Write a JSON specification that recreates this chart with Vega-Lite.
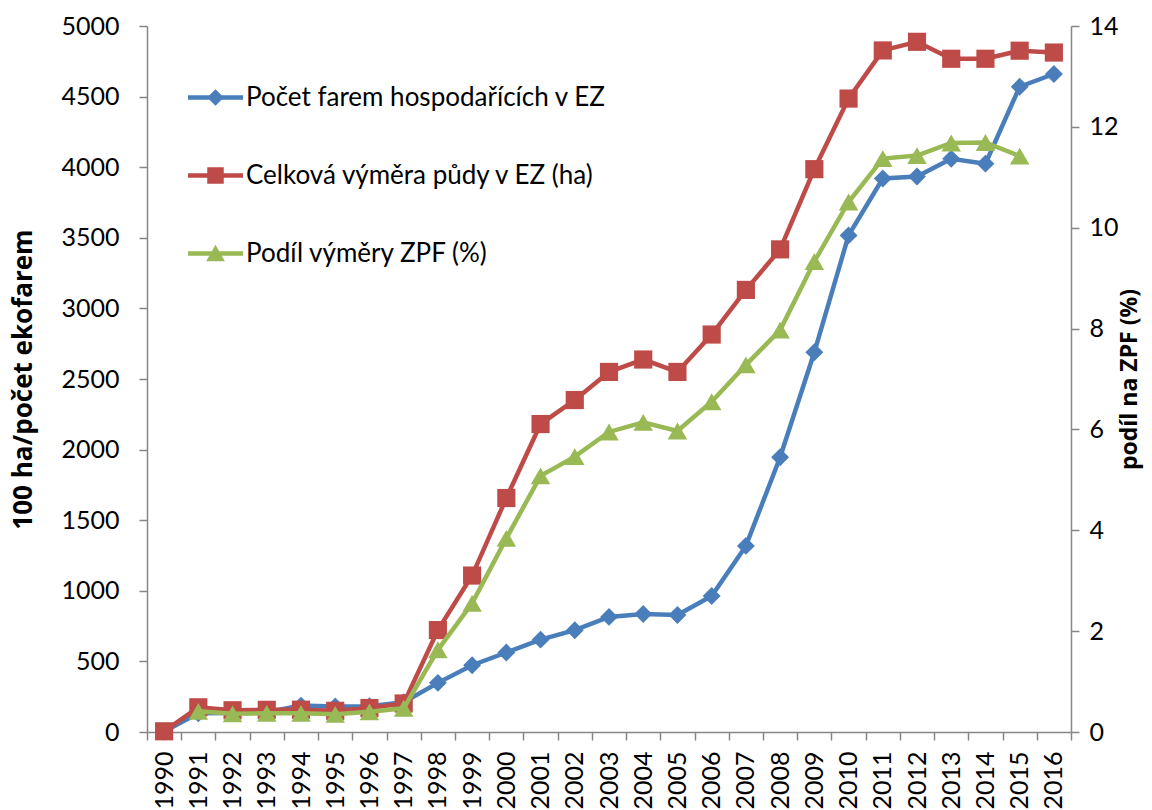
{
  "$schema": "https://vega.github.io/schema/vega-lite/v6.json",
  "width": 924,
  "height": 706,
  "padding": {"left": 10, "top": 14, "right": 6, "bottom": 0},
  "background": "white",
  "config": {
    "view": {"stroke": null},
    "font": "Lato",
    "axis": {
      "labelFont": "Lato",
      "labelFontSize": 25,
      "labelColor": "black",
      "titleFont": "Open Sans",
      "titleFontSize": 26,
      "titleFontWeight": "bold",
      "titleColor": "black",
      "domainColor": "#868686",
      "domainWidth": 1.5,
      "tickColor": "#868686",
      "tickWidth": 1.5,
      "tickSize": 8,
      "grid": false
    }
  },
  "data": {
    "values": [
      {"year": "1990", "series": "farms", "value": 3},
      {"year": "1991", "series": "farms", "value": 132},
      {"year": "1992", "series": "farms", "value": 135},
      {"year": "1993", "series": "farms", "value": 141},
      {"year": "1994", "series": "farms", "value": 187},
      {"year": "1995", "series": "farms", "value": 181},
      {"year": "1996", "series": "farms", "value": 182},
      {"year": "1997", "series": "farms", "value": 211},
      {"year": "1998", "series": "farms", "value": 348},
      {"year": "1999", "series": "farms", "value": 473},
      {"year": "2000", "series": "farms", "value": 563},
      {"year": "2001", "series": "farms", "value": 654},
      {"year": "2002", "series": "farms", "value": 721},
      {"year": "2003", "series": "farms", "value": 815},
      {"year": "2004", "series": "farms", "value": 836},
      {"year": "2005", "series": "farms", "value": 829},
      {"year": "2006", "series": "farms", "value": 963},
      {"year": "2007", "series": "farms", "value": 1318},
      {"year": "2008", "series": "farms", "value": 1946},
      {"year": "2009", "series": "farms", "value": 2689},
      {"year": "2010", "series": "farms", "value": 3517},
      {"year": "2011", "series": "farms", "value": 3920},
      {"year": "2012", "series": "farms", "value": 3934},
      {"year": "2013", "series": "farms", "value": 4060},
      {"year": "2014", "series": "farms", "value": 4025},
      {"year": "2015", "series": "farms", "value": 4570},
      {"year": "2016", "series": "farms", "value": 4660},
      {"year": "1990", "series": "area", "value": 5},
      {"year": "1991", "series": "area", "value": 175},
      {"year": "1992", "series": "area", "value": 154},
      {"year": "1993", "series": "area", "value": 157},
      {"year": "1994", "series": "area", "value": 158},
      {"year": "1995", "series": "area", "value": 150},
      {"year": "1996", "series": "area", "value": 170},
      {"year": "1997", "series": "area", "value": 202},
      {"year": "1998", "series": "area", "value": 722},
      {"year": "1999", "series": "area", "value": 1108},
      {"year": "2000", "series": "area", "value": 1657},
      {"year": "2001", "series": "area", "value": 2181},
      {"year": "2002", "series": "area", "value": 2351},
      {"year": "2003", "series": "area", "value": 2550},
      {"year": "2004", "series": "area", "value": 2638},
      {"year": "2005", "series": "area", "value": 2550},
      {"year": "2006", "series": "area", "value": 2815},
      {"year": "2007", "series": "area", "value": 3131},
      {"year": "2008", "series": "area", "value": 3418},
      {"year": "2009", "series": "area", "value": 3986},
      {"year": "2010", "series": "area", "value": 4486},
      {"year": "2011", "series": "area", "value": 4827},
      {"year": "2012", "series": "area", "value": 4888},
      {"year": "2013", "series": "area", "value": 4768},
      {"year": "2014", "series": "area", "value": 4768},
      {"year": "2015", "series": "area", "value": 4825},
      {"year": "2016", "series": "area", "value": 4812},
      {"year": "1991", "series": "zpf", "value": 0.41},
      {"year": "1992", "series": "zpf", "value": 0.36},
      {"year": "1993", "series": "zpf", "value": 0.37},
      {"year": "1994", "series": "zpf", "value": 0.37},
      {"year": "1995", "series": "zpf", "value": 0.35},
      {"year": "1996", "series": "zpf", "value": 0.40},
      {"year": "1997", "series": "zpf", "value": 0.47},
      {"year": "1998", "series": "zpf", "value": 1.63},
      {"year": "1999", "series": "zpf", "value": 2.55},
      {"year": "2000", "series": "zpf", "value": 3.84},
      {"year": "2001", "series": "zpf", "value": 5.08},
      {"year": "2002", "series": "zpf", "value": 5.46},
      {"year": "2003", "series": "zpf", "value": 5.95},
      {"year": "2004", "series": "zpf", "value": 6.14},
      {"year": "2005", "series": "zpf", "value": 5.97},
      {"year": "2006", "series": "zpf", "value": 6.55},
      {"year": "2007", "series": "zpf", "value": 7.28},
      {"year": "2008", "series": "zpf", "value": 7.97},
      {"year": "2009", "series": "zpf", "value": 9.33},
      {"year": "2010", "series": "zpf", "value": 10.51},
      {"year": "2011", "series": "zpf", "value": 11.37},
      {"year": "2012", "series": "zpf", "value": 11.43},
      {"year": "2013", "series": "zpf", "value": 11.68},
      {"year": "2014", "series": "zpf", "value": 11.69},
      {"year": "2015", "series": "zpf", "value": 11.42}
    ]
  },
  "encoding": {
    "x": {
      "field": "year",
      "type": "ordinal",
      "scale": {"type": "band", "paddingInner": 0, "paddingOuter": 0},
      "axis": {
        "title": null,
        "labelAngle": -90,
        "labelPadding": 11,
        "tickBand": "extent"
      }
    },
    "color": {
      "field": "series",
      "type": "nominal",
      "scale": {
        "domain": ["farms", "area", "zpf"],
        "range": ["#4A7EBB", "#BE4B48", "#98B954"]
      },
      "legend": {
        "orient": "none",
        "legendX": 41,
        "legendY": 44,
        "title": null,
        "padding": 0,
        "symbolSize": 3025,
        "symbolStrokeWidth": 0,
        "symbolOpacity": 1,
        "labelFont": "Lato",
        "labelFontSize": 26,
        "labelColor": "black",
        "labelOffset": 3,
        "rowPadding": 37,
        "labelLimit": 600,
        "labelExpr": "datum.value == 'farms' ? 'Počet farem hospodařících v EZ' : datum.value == 'area' ? 'Celková výměra půdy v EZ (ha)' : 'Podíl výměry ZPF (%)'",
        "encode": {
          "symbols": {
            "update": {
              "shape": {"signal": "datum.value == 'farms' ? 'M-1,-0.08H1V0.08H-1Z M0,-0.3L0.3,0L0,0.3L-0.3,0Z' : datum.value == 'area' ? 'M-1,-0.08H1V0.08H-1Z M-0.3,-0.3H0.3V0.3H-0.3Z' : 'M-1,-0.08H1V0.08H-1Z M0,-0.32L0.34,0.28H-0.34Z'"},
              "fill": {"signal": "datum.value == 'farms' ? '#4A7EBB' : datum.value == 'area' ? '#BE4B48' : '#98B954'"},
              "fillOpacity": {"value": 1},
              "strokeWidth": {"value": 0}
            }
          }
        }
      }
    }
  },
  "layer": [
    {
      "encoding": {
        "y": {
          "field": "value",
          "type": "quantitative",
          "scale": {"domain": [0, 5000], "nice": false},
          "axis": {
            "title": "100 ha/počet ekofarem",
            "values": [0, 500, 1000, 1500, 2000, 2500, 3000, 3500, 4000, 4500, 5000],
            "format": "d",
            "labelPadding": 20,
            "titlePadding": 24
          }
        }
      },
      "layer": [
        {
          "transform": [{"filter": "datum.series == 'farms'"}],
          "mark": {"type": "line", "strokeWidth": 4.5},
          "encoding": {}
        },
        {
          "transform": [{"filter": "datum.series == 'farms'"}],
          "mark": {"type": "point", "shape": "diamond", "filled": true, "size": 320, "opacity": 1},
          "encoding": {}
        },
        {
          "transform": [{"filter": "datum.series == 'area'"}],
          "mark": {"type": "line", "strokeWidth": 4.5},
          "encoding": {}
        },
        {
          "transform": [{"filter": "datum.series == 'area'"}],
          "mark": {"type": "point", "shape": "square", "filled": true, "size": 330, "opacity": 1},
          "encoding": {}
        }
      ]
    },
    {
      "transform": [{"filter": "datum.series == 'zpf'"}],
      "encoding": {
        "y": {
          "field": "value",
          "type": "quantitative",
          "scale": {"domain": [0, 14], "nice": false},
          "axis": {
            "orient": "right",
            "title": "podíl na ZPF (%)",
            "values": [0, 2, 4, 6, 8, 10, 12, 14],
            "labelPadding": 10,
            "titlePadding": 0,
            "titleFontSize": 23,
            "titleAngle": 270,
            "titleBaseline": "top"
          }
        }
      },
      "layer": [
        {"mark": {"type": "line", "strokeWidth": 4.5}, "encoding": {}},
        {"mark": {"type": "point", "shape": "triangle-up", "filled": true, "size": 380, "opacity": 1}, "encoding": {}}
      ]
    }
  ],
  "resolve": {"scale": {"y": "independent"}}
}
